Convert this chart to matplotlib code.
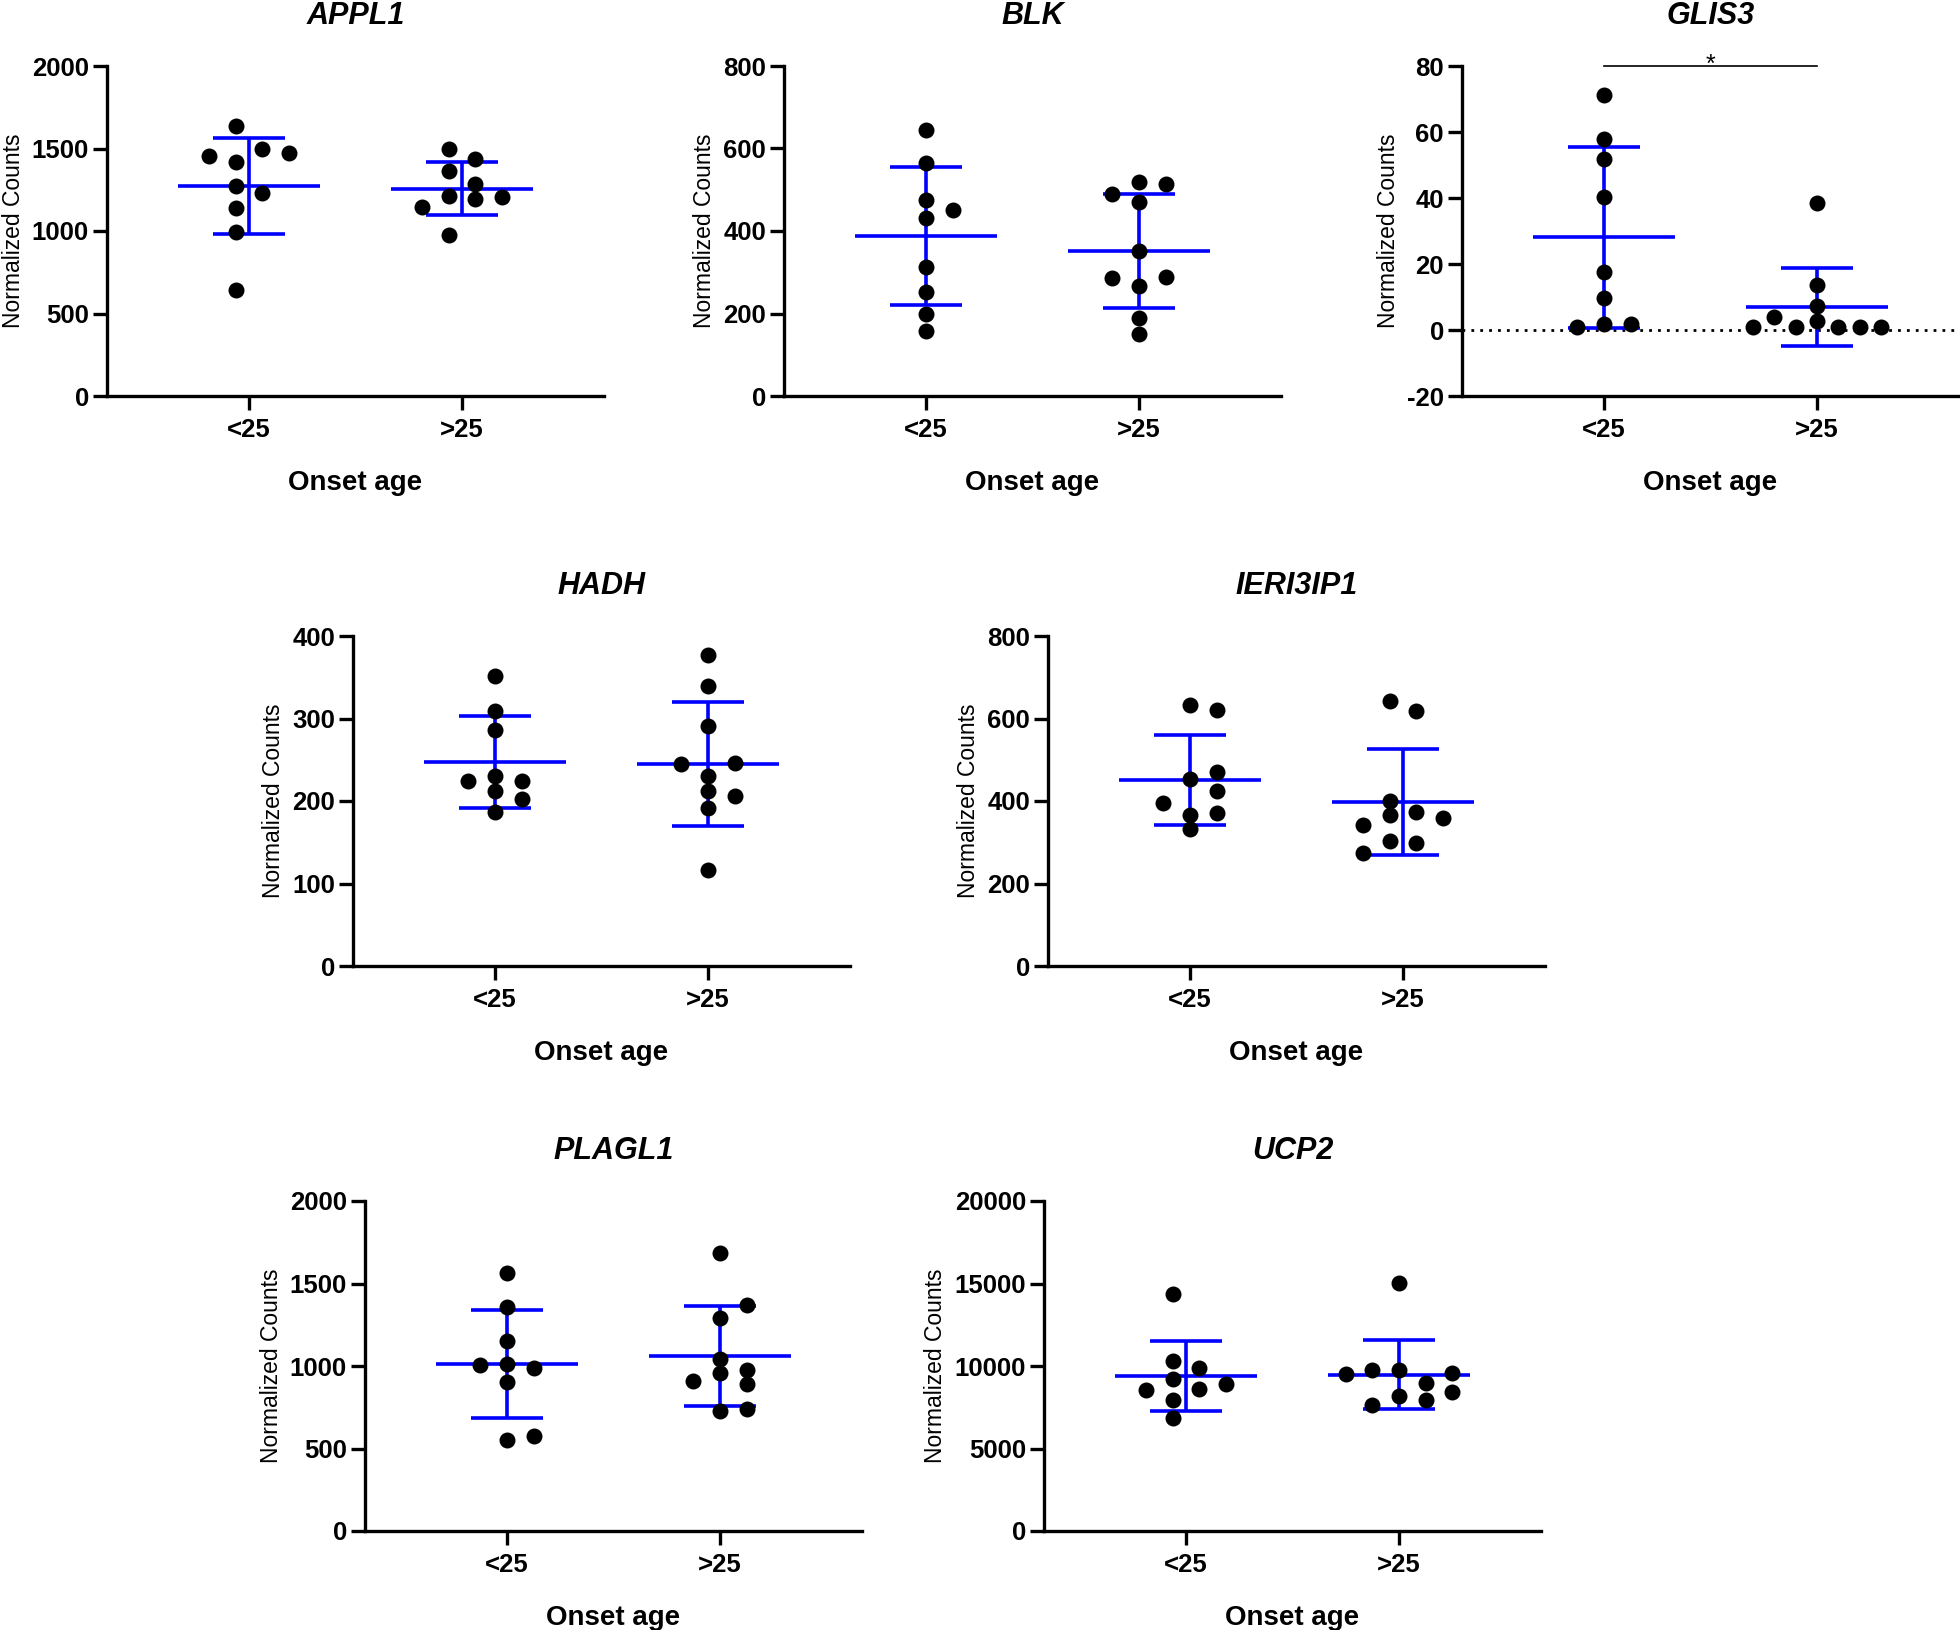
import numpy as np
import matplotlib
matplotlib.use("Agg")
import matplotlib.pyplot as plt

plt.rcParams['font.family'] = ['Liberation Sans', 'DejaVu Sans']

# ---------------- data (normalized counts per sample) ----------------
groups = ['<25', '>25']

appl1_lt25 = [1635, 1416, 1494, 1454, 1470, 1273, 1229, 1142, 993, 645]
appl1_gt25 = [1496, 1434, 1366, 1214, 1192, 1148, 1204, 1285, 975]

blk_lt25 = [645, 566, 432, 452, 475, 313, 251, 200, 157]
blk_gt25 = [519, 514, 490, 471, 351, 266, 289, 285, 188, 150]

glis3_lt25 = [71.1, 58.0, 51.9, 40.2, 17.7, 9.6, 1.8, 1.7, 1.0]
glis3_gt25 = [38.4, 13.7, 2.7, 7.4, 0.8, 0.8, 0.8, 4.0, 0.8, 1.0]

hadh_lt25 = [352, 309, 286, 230, 224, 224, 212, 202, 187]
hadh_gt25 = [377, 339, 291, 230, 246, 245, 212, 206, 191, 116]

ieri3ip1_lt25 = [453, 471, 424, 365, 370, 331, 396, 633, 621]
ieri3ip1_gt25 = [643, 618, 401, 365, 373, 342, 360, 304, 299, 274]

plagl1_lt25 = [1561, 1358, 1150, 1012, 986, 1006, 904, 553, 573]
plagl1_gt25 = [1685, 1293, 1370, 955, 976, 1041, 909, 890, 726, 742]

ucp2_lt25 = [14366, 10322, 9235, 9879, 8612, 8571, 8893, 7928, 6841]
ucp2_gt25 = [15030, 9759, 8994, 9738, 9577, 9517, 8169, 7928, 7626, 8451]

genes = ['APPL1', 'BLK', 'GLIS3', 'HADH', 'IERI3IP1', 'PLAGL1', 'UCP2']
values = {
    'APPL1': (appl1_lt25, appl1_gt25),
    'BLK': (blk_lt25, blk_gt25),
    'GLIS3': (glis3_lt25, glis3_gt25),
    'HADH': (hadh_lt25, hadh_gt25),
    'IERI3IP1': (ieri3ip1_lt25, ieri3ip1_gt25),
    'PLAGL1': (plagl1_lt25, plagl1_gt25),
    'UCP2': (ucp2_lt25, ucp2_gt25),
}
y_ticks = {
    'APPL1': [0, 500, 1000, 1500, 2000],
    'BLK': [0, 200, 400, 600, 800],
    'GLIS3': [-20, 0, 20, 40, 60, 80],
    'HADH': [0, 100, 200, 300, 400],
    'IERI3IP1': [0, 200, 400, 600, 800],
    'PLAGL1': [0, 500, 1000, 1500, 2000],
    'UCP2': [0, 5000, 10000, 15000, 20000],
}
significance = {'GLIS3': '*'}

x_label = 'Onset age'
y_label = 'Normalized Counts'

# ---------------- layout (pixels in a 1960x1630 canvas) ----------------
W, H = 1960, 1630
AW, AH = 497, 330
axes_px = {
    'APPL1': (107, 66), 'BLK': (784, 66), 'GLIS3': (1462, 66),
    'HADH': (353, 636), 'IERI3IP1': (1048, 636),
    'PLAGL1': (365, 1201), 'UCP2': (1044, 1201),
}
BLUE = '#0000FF'


def swarm_offsets(vals, d):
    """Column beeswarm: each point goes to the nearest free column slot."""
    order = [0]
    for i in range(1, 30):
        order += [i, -i]
    placed = {}
    slots = []
    for v in vals:
        for s in order:
            if all(abs(v - u) >= d for u in placed.get(s, [])):
                break
        placed.setdefault(s, []).append(v)
        slots.append(s)
    slots = np.asarray(slots, float)
    lo, hi = slots.min(), slots.max()
    ncols = hi - lo + 1
    center = (lo + hi) / 2 if ncols >= 3 else 0.0
    spacing = 0.125 if ncols <= 1 else min(0.125, 0.6 / (ncols - 1))
    return (slots - center) * spacing


fig = plt.figure(figsize=(W / 100, H / 100), dpi=100)

for gene in genes:
    lpx, tpx = axes_px[gene]
    ax = fig.add_axes([lpx / W, 1 - (tpx + AH) / H, AW / W, AH / H])
    ticks = y_ticks[gene]
    ylo, yhi = ticks[0], ticks[-1]
    ax.set_xlim(-0.667, 1.667)
    ax.set_ylim(ylo, yhi)
    d = 0.042 * (yhi - ylo)

    for xi, vals in enumerate(values[gene]):
        v = np.asarray(vals, float)
        off = swarm_offsets(v, d)
        m, s = v.mean(), v.std(ddof=1)
        ax.hlines(m, xi - 0.333, xi + 0.333, color=BLUE, lw=2.6, zorder=3)
        ax.vlines(xi, m - s, m + s, color=BLUE, lw=2.6, zorder=3)
        ax.hlines([m - s, m + s], xi - 0.167, xi + 0.167, color=BLUE,
                  lw=2.6, zorder=3)
        ax.plot(xi + off, v, 'o', color='black', ms=11.5, mew=0, zorder=4,
                clip_on=False)

    if ylo < 0:
        ax.axhline(0, color='black', lw=2, ls=(0, (1, 2.2)), zorder=1)

    if gene in significance:
        ax.plot([0, 1], [yhi, yhi], color='black', lw=1.2, clip_on=False,
                zorder=5)
        ax.annotate(significance[gene], xy=(0.5, yhi), xytext=(0, -4),
                    textcoords='offset points', ha='center', va='baseline',
                    fontsize=18, annotation_clip=False)

    ax.set_xticks([0, 1], labels=groups, fontsize=18.5, fontweight='bold')
    ax.set_yticks(ticks, labels=[str(int(t)) for t in ticks], fontsize=18.5,
                  fontweight='bold')
    ax.tick_params(axis='both', length=10, width=2.4, direction='out')
    ax.tick_params(axis='x', pad=5.5)
    ax.tick_params(axis='y', pad=3)
    for side in ('top', 'right'):
        ax.spines[side].set_visible(False)
    for side in ('left', 'bottom'):
        ax.spines[side].set_linewidth(2.4)

    ax.set_title(gene, fontsize=22, fontweight='bold', fontstyle='italic',
                 pad=30.5)
    ax.set_xlabel(x_label, fontsize=20, fontweight='bold')
    ax.xaxis.set_label_coords(0.5, -0.225)
    ax.set_ylabel(y_label, fontsize=16.5, labelpad=5)

fig.savefig('out.png', dpi=100)
